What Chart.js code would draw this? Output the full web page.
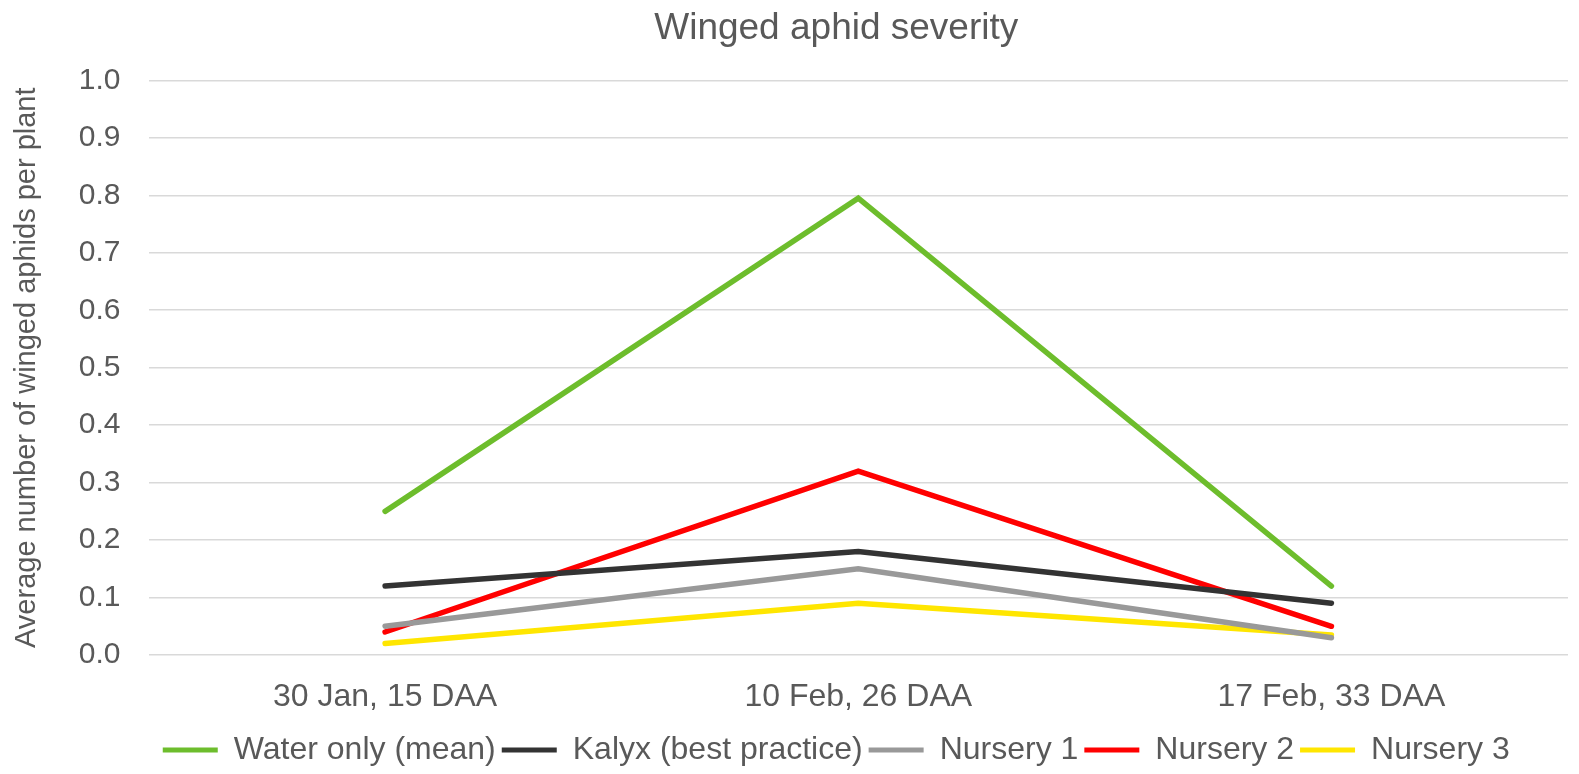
<!DOCTYPE html>
<html>
<head>
<meta charset="utf-8">
<title>Winged aphid severity</title>
<script src="https://cdn.jsdelivr.net/npm/chart.js@4/dist/chart.umd.min.js"></script>
<style>
  html, body { margin: 0; padding: 0; background: #ffffff; }
  #wrap { position: relative; width: 1579px; height: 774px; }
</style>
</head>
<body>
<div id="wrap"><canvas id="chart"></canvas></div>
<script>
// ── Data ───────────────────────────────────────────────────────────────────
const categories = ['30 Jan, 15 DAA', '10 Feb, 26 DAA', '17 Feb, 33 DAA'];
const waterOnly  = [0.25, 0.795, 0.12];
const kalyx      = [0.12, 0.18, 0.09];
const nursery1   = [0.05, 0.15, 0.03];
const nursery2   = [0.04, 0.32, 0.05];
const nursery3   = [0.02, 0.09, 0.035];

// ── Styling ────────────────────────────────────────────────────────────────
const FONT_FAMILY = "'Liberation Sans', Arial, sans-serif";
const TEXT_COLOR = '#595959';
const GRID_COLOR = '#d9d9d9';

function series(label, data, color) {
  return {
    label,
    data,
    borderColor: color,
    backgroundColor: color,
    borderWidth: 5.5,
    borderCapStyle: 'round',
    borderJoinStyle: 'miter',
    pointRadius: 0,
    pointHoverRadius: 0,
    tension: 0,
    fill: false,
  };
}

const datasets = [
  series('Water only (mean)', waterOnly, '#6dbd2c'),
  series('Kalyx (best practice)', kalyx, '#333333'),
  series('Nursery 1', nursery1, '#999999'),
  series('Nursery 2', nursery2, '#ff0000'),
  series('Nursery 3', nursery3, '#ffe600'),
];

// Title and legend sit a little left of the plot centre, as in the original;
// the legend row also hangs a couple of pixels lower.
const shiftBlocks = {
  id: 'shiftBlocks',
  afterLayout(chart) {
    for (const b of [chart.titleBlock, chart.legend]) {
      if (!b) continue;
      b.left -= 22;
      b.right -= 22;
    }
    if (chart.legend) {
      chart.legend.top += 2;
      chart.legend.bottom += 2;
    }
  },
};

new Chart(document.getElementById('chart'), {
  type: 'line',
  data: { labels: categories, datasets },
  plugins: [shiftBlocks],
  options: {
    responsive: true,
    maintainAspectRatio: false,
    animation: false,
    layout: { padding: { left: 10, right: 11, top: 4, bottom: 0 } },
    plugins: {
      title: {
        display: true,
        fullSize: false,
        text: 'Winged aphid severity',
        color: TEXT_COLOR,
        font: { family: FONT_FAMILY, size: 37, weight: 'normal' },
        padding: { top: 3, bottom: 29 },
      },
      legend: {
        position: 'bottom',
        fullSize: false,
        labels: {
          color: TEXT_COLOR,
          font: { family: FONT_FAMILY, size: 32 },
          boxWidth: 55,
          boxHeight: 5,
          padding: 6,
          generateLabels(chart) {
            return chart.data.datasets.map((ds, i) => ({
              text: ds.label,
              fillStyle: ds.borderColor,
              strokeStyle: ds.borderColor,
              lineWidth: 0,
              fontColor: TEXT_COLOR,
              datasetIndex: i,
              hidden: false,
            }));
          },
        },
      },
      tooltip: { enabled: false },
    },
    scales: {
      x: {
        offset: true,
        grid: { display: false, drawTicks: false },
        border: { display: false },
        ticks: {
          color: TEXT_COLOR,
          font: { family: FONT_FAMILY, size: 32 },
          padding: 23,
          maxRotation: 0,
        },
        afterFit(scale) {
          scale.height = 71;
        },
      },
      y: {
        min: 0,
        max: 1.0,
        grid: { color: GRID_COLOR, lineWidth: 1.5, drawTicks: false },
        border: { display: false },
        ticks: {
          stepSize: 0.1,
          color: TEXT_COLOR,
          font: { family: FONT_FAMILY, size: 30 },
          padding: 28,
          callback: (v) => Number(v).toFixed(1),
        },
        title: {
          display: true,
          text: 'Average number of winged aphids per plant',
          color: TEXT_COLOR,
          font: { family: FONT_FAMILY, size: 29 },
          padding: { top: 0, bottom: 6 },
        },
      },
    },
  },
});
</script>
</body>
</html>
